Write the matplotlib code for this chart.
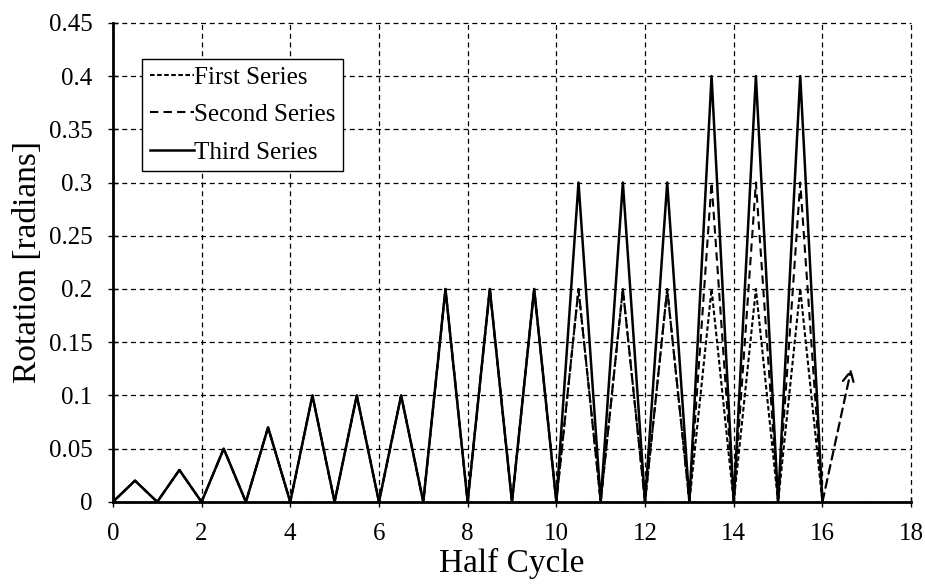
import matplotlib
matplotlib.use('Agg')
import matplotlib.pyplot as plt
from matplotlib.ticker import FuncFormatter

plt.rcParams['font.family'] = ['Liberation Serif', 'DejaVu Serif']

# half-cycle positions (0, 0.5, 1, ... 16)
half_cycle = [i * 0.5 for i in range(33)]

# peak values at each odd half cycle (0.5, 1.5, ..., 15.5)
third_peaks = [0.02, 0.03, 0.05, 0.07, 0.1, 0.1, 0.1, 0.2, 0.2, 0.2,
               0.3, 0.3, 0.3, 0.4, 0.4, 0.4]
second_peaks = [0.02, 0.03, 0.05, 0.07, 0.1, 0.1, 0.1, 0.2, 0.2, 0.2,
                0.2, 0.2, 0.2, 0.3, 0.3, 0.3]
first_peaks = [0.02, 0.03, 0.05, 0.07, 0.1, 0.1, 0.1, 0.2, 0.2, 0.2,
               0.2, 0.2, 0.2, 0.2, 0.2, 0.2]

# continuation arrow (start, end)
arrow_start = (16, 0)
arrow_end = (16.65, 0.125)


def zigzag(peaks):
    vals = [0.0]
    for p in peaks:
        vals += [p, 0.0]
    return vals


first = zigzag(first_peaks)
second = zigzag(second_peaks)
third = zigzag(third_peaks)

fig = plt.figure(figsize=(9.25, 5.85), dpi=100)
ax = fig.add_axes([0.122, 0.142, 0.863, 0.819])

ax.plot(half_cycle, first, color='black', lw=1.5, linestyle=(0, (2.2, 1.2)), label='First Series')
ax.plot(half_cycle, second, color='black', lw=1.5, linestyle=(0, (4, 2.5)), label='Second Series')
ax.plot(half_cycle, third, color='black', lw=1.8, linestyle='-', label='Third Series')

ax.annotate('', xy=arrow_end, xytext=arrow_start,
            arrowprops=dict(arrowstyle='->', color='black', lw=1.6,
                            linestyle=(0, (4, 2.5)), mutation_scale=20,
                            shrinkA=0, shrinkB=0))

ax.set_xlim(0, 18)
ax.set_ylim(0, 0.45)
ax.set_xticks(range(0, 19, 2))
ax.set_yticks([i * 0.05 for i in range(10)])
ax.yaxis.set_major_formatter(FuncFormatter(lambda v, p: '%g' % round(v, 2)))

ax.grid(True, color='black', linestyle=(0, (4, 3)), linewidth=0.9)
for gl in ax.get_xgridlines() + ax.get_ygridlines():
    gl.set_clip_on(False)
ax.set_axisbelow(True)
for s in ['top', 'right']:
    ax.spines[s].set_visible(False)
for s in ['left', 'bottom']:
    ax.spines[s].set_linewidth(2)

ax.tick_params(direction='inout', length=7, width=1, labelsize=18, colors='black')
ax.tick_params(axis='x', pad=12)
ax.tick_params(axis='y', pad=11)
ax.set_xlabel('Half Cycle', fontsize=24, labelpad=2)
ax.set_ylabel('Rotation [radians]', fontsize=24, labelpad=4)

leg = ax.legend(loc='upper left', bbox_to_anchor=(0.037, 0.925), fontsize=18,
                frameon=True, fancybox=False, edgecolor='black', framealpha=1,
                handlelength=1.75, handletextpad=0.0, borderpad=0.3,
                labelspacing=0.6, borderaxespad=0)
leg.get_frame().set_linewidth(1)

fig.savefig('out.png', dpi=100)
